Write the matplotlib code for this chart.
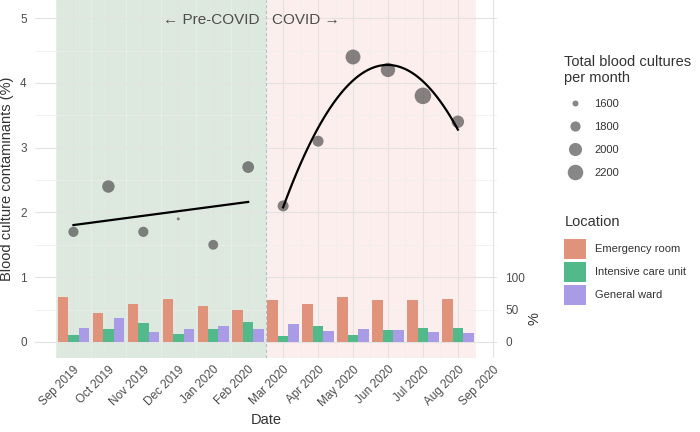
import numpy as np
import matplotlib
matplotlib.use("Agg")
import matplotlib.pyplot as plt
from matplotlib.lines import Line2D
from matplotlib.patches import Patch

plt.rcParams['font.family'] = ['Liberation Sans', 'DejaVu Sans']

months = ["Sep 2019", "Oct 2019", "Nov 2019", "Dec 2019", "Jan 2020", "Feb 2020",
          "Mar 2020", "Apr 2020", "May 2020", "Jun 2020", "Jul 2020", "Aug 2020"]
tick_labels = months + ["Sep 2020"]
contaminants = [1.7, 2.4, 1.7, 1.9, 1.5, 2.7, 2.1, 3.1, 4.4, 4.2, 3.8, 3.4]
total_cultures = [1800, 1950, 1800, 1520, 1780, 1900, 1850, 1850, 2150, 2100, 2300, 1950]
emergency = [69, 44, 58, 67, 56, 50, 64, 59, 70, 64, 64, 67]
icu = [11, 20, 30, 12, 20, 31, 9, 25, 11, 18, 22, 22]
ward = [22, 37, 15, 20, 25, 20, 28, 17, 20, 18, 15, 14]
size_legend = [1600, 1800, 2000, 2200]
locations = ["Emergency room", "Intensive care unit", "General ward"]
loc_colors = ["#E0937A", "#52B98A", "#A99BE6"]
n_pre = 6

def marker_area(n):
    px_area = 36 + (np.asarray(n, dtype=float) - 1600) * 0.34
    return np.clip(px_area, 2, None) * 0.72 ** 2

fig = plt.figure(figsize=(7, 4.32), dpi=100)
ax = fig.add_axes([0.05, 0.171, 0.66, 0.829])
x = np.arange(len(months))

# background shading
ax.axvspan(-0.5, n_pre - 0.5, color="#DDE9DF", zorder=0, lw=0)
ax.axvspan(n_pre - 0.5, len(months) - 0.5, color="#FCEEEC", zorder=0, lw=0)
ax.axvline(n_pre - 0.5, color="#A9C4D3", ls=(0, (3, 2)), lw=0.8, zorder=1)

# grid
ax.set_axisbelow(True)
ax.set_xticks(np.arange(len(tick_labels)))
ax.set_xticks(np.arange(-0.5, 12.6, 1.0), minor=True)
ax.set_yticks(np.arange(0, 6))
ax.set_yticks(np.arange(-0.5, 5.6, 1.0), minor=True)
ax.grid(which="major", color="#E2E2E2", lw=0.8)
ax.grid(which="minor", color="#EEEEEE", lw=0.5)
for s in ax.spines.values():
    s.set_visible(False)
ax.tick_params(which="both", length=0)
ax.set_xticklabels(tick_labels, rotation=45, ha="right", rotation_mode="anchor",
                   fontsize=8.5, color="#4D4D4D")
ax.tick_params(axis="x", pad=4)
ax.tick_params(axis="y", labelsize=8.5, labelcolor="#4D4D4D", pad=6)

# bars (percent scaled so that 100% = 1 unit)
w = 0.3
for i, (vals, col) in enumerate(zip([emergency, icu, ward], loc_colors)):
    ax.bar(x + (i - 1) * w, np.array(vals) / 100.0, width=w, color=col, zorder=2, lw=0)

# points
ax.scatter(x, contaminants, s=marker_area(total_cultures), color="#3D3D3D",
           alpha=0.62, lw=0, zorder=3)

# trend lines
xp = x[:n_pre]
cp = np.polyfit(xp, contaminants[:n_pre], 1)
ax.plot(xp, np.polyval(cp, xp), color="black", lw=1.6, zorder=4)
xc = x[n_pre:]
cc = np.polyfit(xc, contaminants[n_pre:], 2)
xs = np.linspace(xc[0], xc[-1], 100)
ax.plot(xs, np.polyval(cc, xs), color="black", lw=1.6, zorder=4)

ax.set_xlim(-1.1, 12.12)
ax.set_ylim(-0.25, 5.28)

# annotations
ax.text(n_pre - 0.5 - 0.17, 4.97, "\u2190 Pre-COVID", ha="right", va="center",
        fontsize=11, color="#4D4D4D")
ax.text(n_pre - 0.5 + 0.17, 4.97, "COVID \u2192", ha="left", va="center",
        fontsize=11, color="#4D4D4D")

ax.set_xlabel("Date", fontsize=10.5, color="#333333", labelpad=3)
ax.set_ylabel("Blood culture contaminants (%)", fontsize=10.5, color="#333333", labelpad=4)

# secondary axis
ax2 = ax.twinx()
ax2.set_yticks([0, 50, 100])
ax2.set_ylim(-25, 528)
ax2.tick_params(length=0, labelsize=8.5, labelcolor="#4D4D4D", pad=6)
for s in ax2.spines.values():
    s.set_visible(False)
ax2.set_ylabel("%", fontsize=10.5, color="#333333", labelpad=4)
ax2.yaxis.set_label_coords(1.065, 0.11)

# legends
size_handles = [Line2D([], [], ls="", marker="o", color="#3D3D3D", alpha=0.62,
                       markeredgewidth=0, markersize=np.sqrt(marker_area(n)))
                for n in size_legend]
leg1 = fig.legend(size_handles, [str(n) for n in size_legend],
                  title="Total blood cultures\nper month", loc="upper left",
                  bbox_to_anchor=(0.795, 0.89), frameon=False, fontsize=8,
                  title_fontsize=10.5, handletextpad=0.7, labelspacing=1.15,
                  borderpad=0.2)
leg1._legend_box.align = "left"
leg1._legend_box.sep = 10
for t in leg1.get_texts():
    t.set_color("#333333")
leg1.get_title().set_color("#333333")

loc_handles = [Patch(facecolor=c, edgecolor="none") for c in loc_colors]
leg2 = fig.legend(loc_handles, locations, title="Location", loc="upper left",
                  bbox_to_anchor=(0.795, 0.52), frameon=False, fontsize=8,
                  title_fontsize=10.5, handlelength=2.0, handleheight=2.39,
                  handletextpad=0.8, labelspacing=0.27, borderpad=0.2)
leg2._legend_box.align = "left"
leg2._legend_box.sep = 7
for t in leg2.get_texts():
    t.set_color("#333333")
leg2.get_title().set_color("#333333")

fig.savefig("out.png", dpi=100)
